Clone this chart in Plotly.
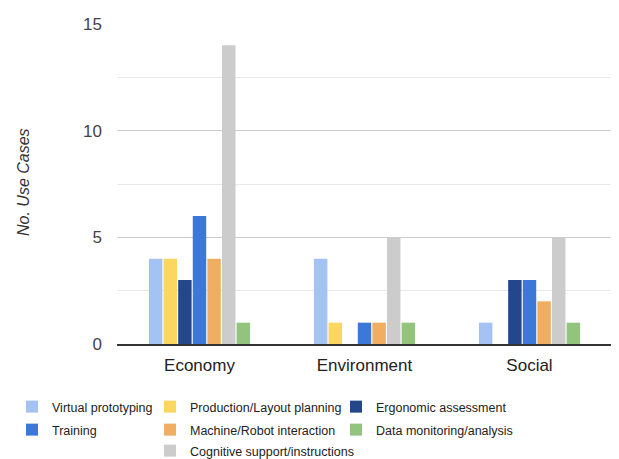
import plotly.graph_objects as go

categories = ["Economy", "Environment", "Social"]
series_names = ["Virtual prototyping", "Production/Layout planning", "Ergonomic assessment",
                "Training", "Machine/Robot interaction", "Cognitive support/instructions",
                "Data monitoring/analysis"]
virtual_prototyping = [4, 4, 1]
production_layout = [4, 1, 0]
ergonomic_assessment = [3, 0, 3]
training = [6, 1, 3]
machine_robot = [4, 1, 2]
cognitive_support = [14, 5, 5]
data_monitoring = [1, 1, 1]
y_range = [0, 15]
y_step = 5
y_title = "No. Use Cases"

values = [virtual_prototyping, production_layout, ergonomic_assessment, training,
          machine_robot, cognitive_support, data_monitoring]
colors = ["#a4c2f4", "#fcd75f", "#24468b", "#3c78d8", "#efae62", "#cccccc", "#93c47d"]

# page body has an 8px default margin, so the figure is drawn 8px in from the window edge
OFF = 8
W, H = 619 - OFF, 459 - OFF
ML, MT, MR, MB = 117 - OFF, 24 - OFF, 7, 115
PW, PH = W - ML - MR, H - MT - MB

# legend grid (screen pixels of each entry's box top-left): column x, row top
col_x = [12, 150, 336]
row_y = [392, 415, 436]
legend_slots = [(0, 0), (1, 0), (2, 0), (0, 1), (1, 1), (1, 2), (2, 1)]

fig = go.Figure()
legend_layouts = {}
for i, (name, vals, col, (c, r)) in enumerate(zip(series_names, values, colors, legend_slots)):
    lg = "legend" if i == 0 else f"legend{i + 1}"
    fig.add_trace(go.Bar(x=categories, y=vals, name=name, marker_color=col,
                         marker_line_width=0, legend=lg))
    legend_layouts[lg] = dict(
        orientation="v", yanchor="top", xanchor="left",
        xref="container", yref="container",
        x=(col_x[c] - OFF) / W, y=1 - (row_y[r] - OFF) / H,
        font=dict(family="Liberation Sans, Arial", size=12.5, color="#222"),
        bgcolor="rgba(0,0,0,0)", itemwidth=30)

fig.update_layout(
    width=W, height=H,
    margin=dict(l=ML, r=MR, t=MT, b=MB, autoexpand=False),
    paper_bgcolor="white", plot_bgcolor="white",
    barmode="group", bargap=0.38, bargroupgap=0.08,
    font=dict(family="Liberation Sans, Arial", color="#444"),
    xaxis=dict(tickfont=dict(size=17, color="#222"), showgrid=False, ticks="",
               showline=True, linecolor="#333", linewidth=1.5,
               ticklabelstandoff=5),
    yaxis=dict(range=y_range, tick0=0, dtick=y_step, tickfont=dict(size=17, color="#444"),
               showgrid=True, gridcolor="#cccccc", gridwidth=1,
               minor=dict(tick0=0, dtick=y_step / 2, showgrid=True, gridcolor="#e8e8e8", gridwidth=1),
               zeroline=False, ticklabelstandoff=14),
    showlegend=True,
    **legend_layouts,
)

fig.add_annotation(
    text=f"<i>{y_title}</i>", textangle=-90, showarrow=False,
    xref="paper", yref="paper", xanchor="center", yanchor="middle",
    x=(23 - OFF - ML) / PW, y=1 - (182 - OFF - MT) / PH,
    font=dict(family="Liberation Sans, Arial", size=16, color="#333"))

fig.write_html("out.html")
